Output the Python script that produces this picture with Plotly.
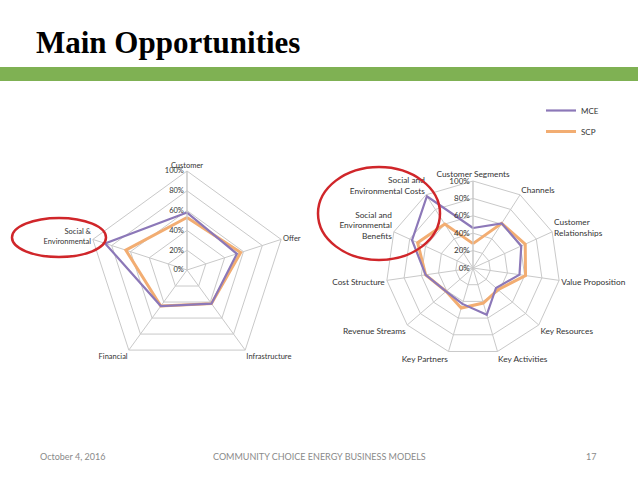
import plotly.graph_objects as go

W, H = 638, 479

# Left chart data
cats_left = ["Customer", "Offer", "Infrastructure", "Financial", "Social &<br>Environmental"]
mce_left = [0.58, 0.53, 0.42, 0.45, 0.87]
scp_left = [0.53, 0.57, 0.42, 0.45, 0.65]

# Right chart data
cats_right = ["Customer Segments", "Channels", "Customer<br>Relationships", "Value Proposition",
              "Key Resources", "Key Activities", "Key Partners", "Revenue Streams",
              "Cost Structure", "Social and<br>Environmental<br>Benefits",
              "Social and<br>Environmental Costs"]
mce_right = [0.46, 0.61, 0.61, 0.54, 0.35, 0.56, 0.43, 0.41, 0.55, 0.77, 0.98]
scp_right = [0.28, 0.61, 0.66, 0.61, 0.38, 0.42, 0.48, 0.41, 0.55, 0.70, 0.60]

series_names = ["MCE", "SCP"]
PURPLE = "#8c78b8"
ORANGE = "#f2ad72"
GRID = "#c9c9c9"
FONT = "Lato"

def closed(v):
    return list(v) + [v[0]]

fig = go.Figure()

for subplot, cats, mce, scp in [("polar", cats_left, mce_left, scp_left),
                                ("polar2", cats_right, mce_right, scp_right)]:
    show = subplot == "polar"
    fig.add_trace(go.Scatterpolar(r=closed(scp), theta=closed(cats), mode="lines",
                                  line=dict(color=ORANGE, width=3), name=series_names[1],
                                  subplot=subplot, showlegend=False))
    fig.add_trace(go.Scatterpolar(r=closed(mce), theta=closed(cats), mode="lines",
                                  line=dict(color=PURPLE, width=2.2), name=series_names[0],
                                  subplot=subplot, showlegend=show, legendgroup="a"))
    if show:
        fig.add_trace(go.Scatterpolar(r=[None], theta=[cats[0]], mode="lines",
                                      line=dict(color=ORANGE, width=3), name=series_names[1],
                                      subplot=subplot, showlegend=True, legendgroup="b"))

def polar_layout(cx, cy, rad, fs, afs):
    return dict(
        domain=dict(x=[(cx - rad) / W, (cx + rad) / W],
                    y=[1 - (cy + rad) / H, 1 - (cy - rad) / H]),
        gridshape="linear",
        bgcolor="white",
        radialaxis=dict(range=[0, 1], dtick=0.2, tickformat=".0%", angle=90, tickangle=90,
                        side="counterclockwise", showline=True, linecolor=GRID,
                        gridcolor=GRID, ticks="", tickfont=dict(size=fs, color="#333", family=FONT)),
        angularaxis=dict(direction="clockwise", rotation=90, gridcolor=GRID,
                         linecolor=GRID, showline=True, ticks="",
                         tickfont=dict(size=afs, color="#333", family=FONT)),
    )

fig.update_layout(
    width=W, height=H,
    margin=dict(l=0, r=0, t=0, b=0),
    paper_bgcolor="white",
    plot_bgcolor="white",
    polar=polar_layout(187, 270, 99, 7.5, 7.5),
    polar2=polar_layout(473, 268, 87, 8, 8.3),
    legend=dict(x=541 / W, y=1 - 96 / H, xanchor="left", yanchor="top",
                font=dict(size=8, family=FONT, color="#333"), tracegroupgap=2,
                bgcolor="rgba(0,0,0,0)"),
    showlegend=True,
)

shapes = [
    dict(type="rect", xref="paper", yref="paper", x0=0, x1=1,
         y0=1 - 81 / H, y1=1 - 67 / H, fillcolor="#7fb153", line=dict(width=0), layer="below"),
    dict(type="circle", xref="paper", yref="paper", x0=12 / W, x1=106 / W,
         y0=1 - 257 / H, y1=1 - 218 / H, line=dict(color="#d0262a", width=2.5), layer="above"),
    dict(type="circle", xref="paper", yref="paper", x0=318 / W, x1=440 / W,
         y0=1 - 260 / H, y1=1 - 167 / H, line=dict(color="#d0262a", width=2.5), layer="above"),
]
fig.update_layout(shapes=shapes)

ann = [
    dict(text="<b>Main Opportunities</b>", x=34 / W, y=1 - 43 / H, xanchor="left", yanchor="middle",
         font=dict(family="Liberation Serif", size=31, color="black")),
    dict(text="October 4, 2016", x=38 / W, y=1 - 456 / H, xanchor="left", yanchor="middle",
         font=dict(family=FONT, size=9, color="#8a8a8a")),
    dict(text="COMMUNITY CHOICE ENERGY BUSINESS MODELS", x=320 / W, y=1 - 456 / H,
         xanchor="center", yanchor="middle", font=dict(family=FONT, size=9, color="#8a8a8a")),
    dict(text="17", x=598 / W, y=1 - 456 / H, xanchor="right", yanchor="middle",
         font=dict(family=FONT, size=9, color="#8a8a8a")),
]
for a in ann:
    a.update(xref="paper", yref="paper", showarrow=False)
fig.update_layout(annotations=ann)

fig.write_html("out.html", config={"displayModeBar": False},
               post_script="document.body.style.margin='0';document.body.style.overflow='hidden';")
